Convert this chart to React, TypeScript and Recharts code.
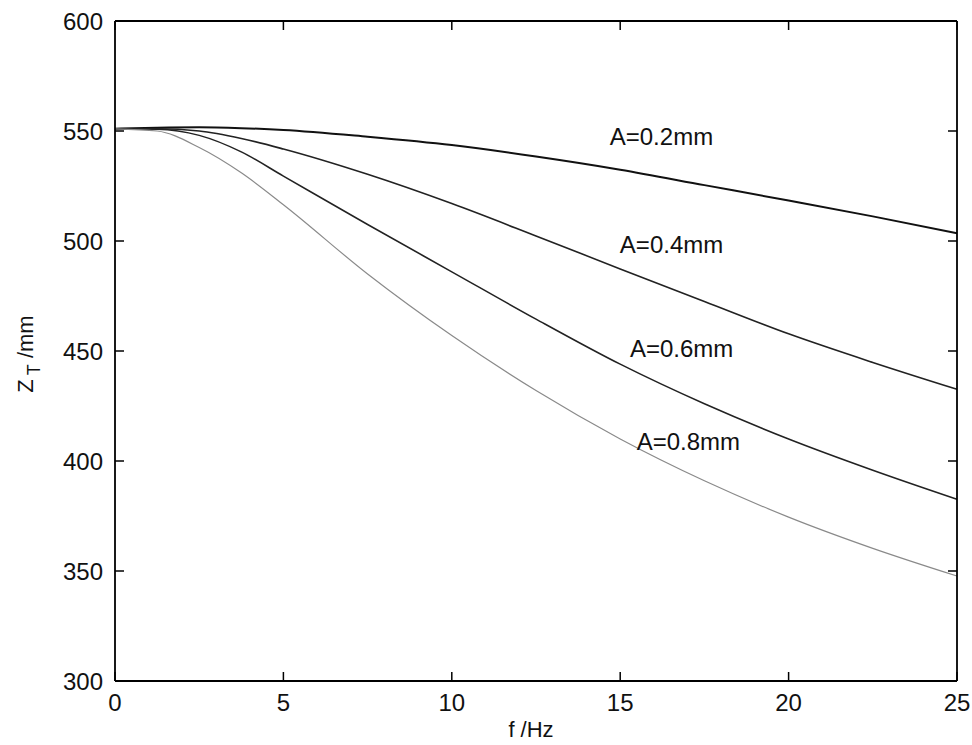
import { LineChart, Line, XAxis, YAxis, ReferenceDot } from 'recharts';

// frequency (Hz)
const FREQ = [0, 1.25, 2.5, 3.75, 5, 7.5, 10, 12.5, 15, 17.5, 20, 22.5, 25];
// Z_T (mm) for each amplitude
const A02 = [551, 551.5, 551.7, 551.3, 550.5, 547.4, 543.6, 538.4, 532.4, 525.4, 518.4, 511.2, 503.5];
const A04 = [551, 551, 550, 546.6, 541.8, 530.3, 517, 502.3, 487.3, 472.5, 457.8, 444.8, 432.6];
const A06 = [551, 550.8, 548, 540.5, 529.5, 507.5, 486, 464.5, 444, 426, 410, 395.8, 382.6];
const A08 = [551, 550, 542.5, 531, 516.5, 485, 457, 432, 410, 391, 374.5, 360.3, 347.7];

const X_TICKS = [0, 5, 10, 15, 20, 25];
const Y_TICKS = [300, 350, 400, 450, 500, 550, 600];

// curve labels: text and the (f, Z) spot where the text starts
const LABEL_TEXT = ['A=0.2mm', 'A=0.4mm', 'A=0.6mm', 'A=0.8mm'];
const LABEL_F = [14.69, 14.99, 15.29, 15.49];
const LABEL_Z = [543.6, 494.5, 447.3, 405];

const data = FREQ.map((f, i) => ({ f, a02: A02[i], a04: A04[i], a06: A06[i], a08: A08[i] }));

const FONT = '"Liberation Sans", Arial, sans-serif';
const TICK_LEN = 9;

const BottomTick = (p: any) => (
  <g>
    <line x1={p.x} y1={p.y} x2={p.x} y2={p.y - TICK_LEN} stroke="#000" strokeWidth={1.5} />
    <text x={p.x} y={p.y + 30} textAnchor="middle" fontSize={24} fontFamily={FONT} fill="#111">
      {p.payload.value}
    </text>
  </g>
);

const TopTick = (p: any) => (
  <line x1={p.x} y1={p.y} x2={p.x} y2={p.y + TICK_LEN} stroke="#000" strokeWidth={1.5} />
);

const LeftTick = (p: any) => (
  <g>
    <line x1={p.x} y1={p.y} x2={p.x + TICK_LEN} y2={p.y} stroke="#000" strokeWidth={1.5} />
    <text x={p.x - 12} y={p.y + 9} textAnchor="end" fontSize={24} fontFamily={FONT} fill="#111">
      {p.payload.value}
    </text>
  </g>
);

const RightTick = (p: any) => (
  <line x1={p.x} y1={p.y} x2={p.x - TICK_LEN} y2={p.y} stroke="#000" strokeWidth={1.5} />
);

export default function App() {
  return (
    <div style={{ position: 'absolute', left: 0, top: 0, background: '#fff' }}>
      <LineChart width={972} height={745} data={data} margin={{ top: 20, right: 14, left: 0, bottom: 0 }}>
        <XAxis
          dataKey="f"
          type="number"
          domain={[0, 25]}
          ticks={X_TICKS}
          height={64}
          tickSize={0}
          tickMargin={0}
          tickLine={false}
          axisLine={{ stroke: '#000', strokeWidth: 1.8 }}
          tick={BottomTick}
          label={{
            content: () => (
              <text x={531} y={737} textAnchor="middle" fontSize={22} fontFamily={FONT} fill="#111">
                f /Hz
              </text>
            ),
          }}
        />
        <XAxis
          xAxisId="top"
          dataKey="f"
          type="number"
          orientation="top"
          domain={[0, 25]}
          ticks={X_TICKS}
          height={1}
          tickSize={0}
          tickMargin={0}
          tickLine={false}
          axisLine={{ stroke: '#000', strokeWidth: 1.8 }}
          tick={TopTick}
        />
        <YAxis
          type="number"
          domain={[300, 600]}
          ticks={Y_TICKS}
          width={115}
          tickSize={0}
          tickMargin={0}
          tickLine={false}
          axisLine={{ stroke: '#000', strokeWidth: 1.8 }}
          tick={LeftTick}
          label={{
            content: () => (
              <text
                transform="translate(33,354) rotate(-90)"
                textAnchor="middle"
                fontSize={22}
                fontFamily={FONT}
                fill="#111"
              >
                Z<tspan fontSize={18} dx={4} dy={7}>T</tspan>
                <tspan dy={-7}> /mm</tspan>
              </text>
            ),
          }}
        />
        <YAxis
          yAxisId="right"
          type="number"
          orientation="right"
          domain={[300, 600]}
          ticks={Y_TICKS}
          width={1}
          tickSize={0}
          tickMargin={0}
          tickLine={false}
          axisLine={{ stroke: '#000', strokeWidth: 1.8 }}
          tick={RightTick}
        />
        <Line type="monotone" dataKey="a02" stroke="#111" strokeWidth={2} dot={false} isAnimationActive={false} />
        <Line type="monotone" dataKey="a04" stroke="#222" strokeWidth={1.6} dot={false} isAnimationActive={false} />
        <Line type="monotone" dataKey="a06" stroke="#222" strokeWidth={1.5} dot={false} isAnimationActive={false} />
        <Line type="monotone" dataKey="a08" stroke="#8a8a8a" strokeWidth={1.2} dot={false} isAnimationActive={false} />
        {/* invisible series so the top / right frame axes get drawn */}
        <Line
          xAxisId="top"
          yAxisId="right"
          dataKey="a02"
          stroke="none"
          dot={false}
          activeDot={false}
          legendType="none"
          isAnimationActive={false}
        />
        {LABEL_TEXT.map((t, i) => (
          <ReferenceDot
            key={t}
            x={LABEL_F[i]}
            y={LABEL_Z[i]}
            r={0}
            ifOverflow="visible"
            shape={(p: any) => (
              <text x={p.cx} y={p.cy} fontSize={24} fontFamily={FONT} fill="#111">
                {t}
              </text>
            )}
          />
        ))}
      </LineChart>
    </div>
  );
}
